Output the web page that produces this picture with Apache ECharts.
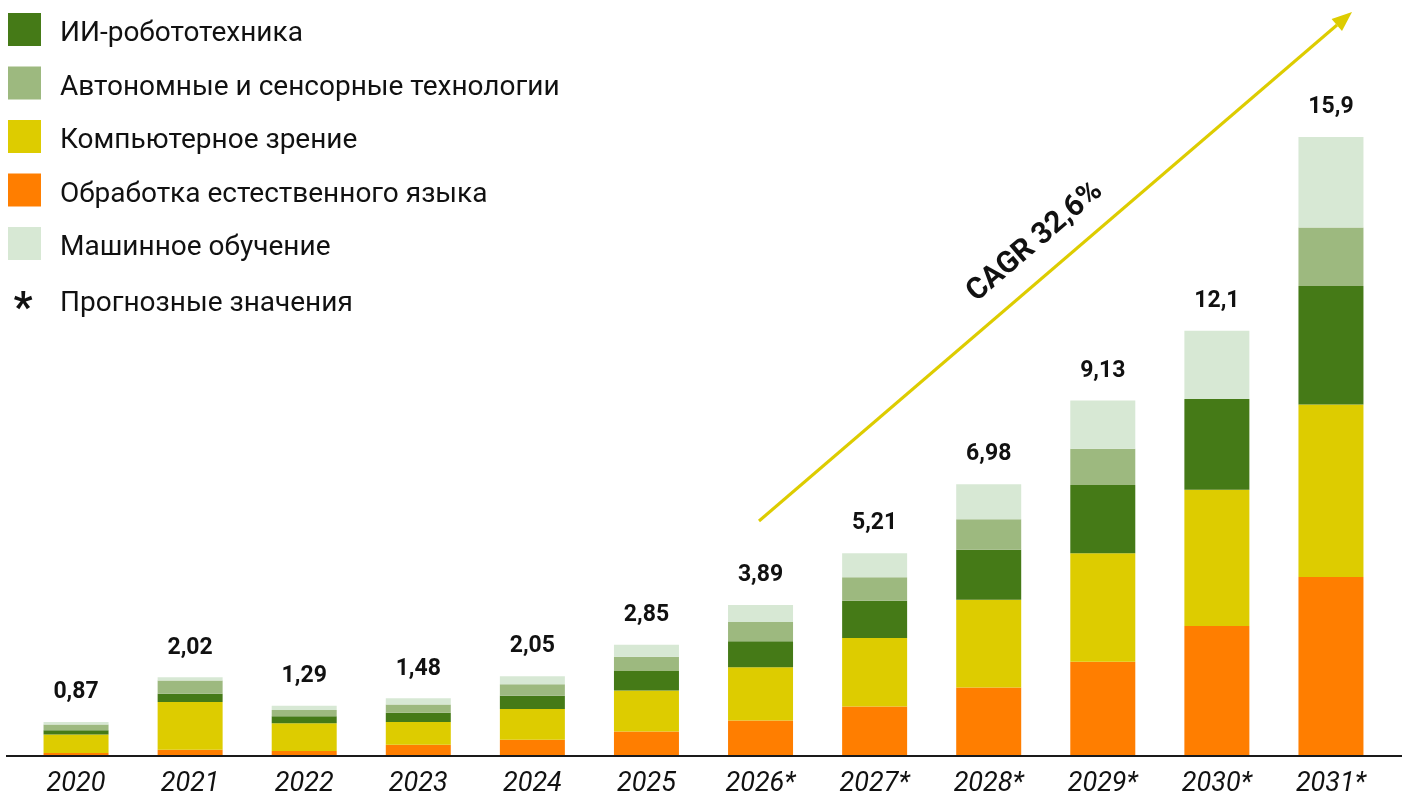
<!DOCTYPE html>
<html>
<head>
<meta charset="utf-8">
<script src="https://cdn.jsdelivr.net/npm/echarts@6/dist/echarts.min.js"></script>
<style>
  html, body { margin: 0; padding: 0; background: #fff; }
  #chart { width: 1402px; height: 798px; }
</style>
</head>
<body>
<div id="chart"></div>
<script>
// years, * = forecast
var categories = ['2020', '2021', '2022', '2023', '2024', '2025', '2026*', '2027*', '2028*', '2029*', '2030*', '2031*']
var totals = ['0,87', '2,02', '1,29', '1,48', '2,05', '2,85', '3,89', '5,21', '6,98', '9,13', '12,1', '15,9']

// segments, bottom to top
var nlp = [0.08, 0.16, 0.13, 0.29, 0.42, 0.63, 0.91, 1.27, 1.76, 2.42, 3.34, 4.60]
var vision = [0.47, 1.23, 0.71, 0.58, 0.79, 1.05, 1.37, 1.76, 2.25, 2.79, 3.50, 4.43]
var robotics = [0.11, 0.21, 0.18, 0.24, 0.34, 0.50, 0.67, 0.96, 1.29, 1.75, 2.33, 3.04]
var autonomous = [0.15, 0.34, 0.16, 0.21, 0.29, 0.37, 0.49, 0.60, 0.78, 0.93, 0, 1.50]
var ml = [0.06, 0.08, 0.11, 0.16, 0.21, 0.31, 0.44, 0.62, 0.90, 1.24, 1.75, 2.33]

var names = {
  robotics: 'ИИ-робототехника',
  autonomous: 'Автономные и сенсорные технологии',
  vision: 'Компьютерное зрение',
  nlp: 'Обработка естественного языка',
  ml: 'Машинное обучение'
}

var font = 'Roboto'
var chart = echarts.init(document.getElementById('chart'))

function bar (name, data, color) {
  return {
    name: name,
    type: 'bar',
    stack: 'total',
    barWidth: 65,
    data: data,
    itemStyle: { color: color },
    emphasis: { disabled: true }
  }
}

var topSeries = bar(names.ml, ml, '#d7e8d4')
topSeries.label = {
  show: true,
  position: 'top',
  distance: 18,
  fontFamily: font,
  fontWeight: 'bold',
  fontSize: 23,
  color: '#111',
  formatter: function (p) { return totals[p.dataIndex] }
}

var option = {
  animation: false,
  grid: { left: 19, right: 14, top: 133, bottom: 42 },
  legend: {
    orient: 'vertical',
    left: 8,
    top: 13,
    padding: 0,
    // square sits in the upper part of a taller item so the text lands a bit lower, as in the source
    icon: 'path://M0 0H33V33H0Z M0 42H0.01V42.01H0Z',
    itemWidth: 33,
    itemHeight: 42,
    itemGap: 11.5,
    selectedMode: false,
    textStyle: { fontFamily: font, fontSize: 28, color: '#111', padding: [0, 0, 0, 14], lineHeight: 33 },
    data: [names.robotics, names.autonomous, names.vision, names.nlp, names.ml]
  },
  xAxis: {
    type: 'category',
    data: categories,
    axisLine: { show: false },
    axisTick: { show: false },
    axisLabel: { fontFamily: font, fontStyle: 'italic', fontSize: 27, color: '#111', margin: 15 }
  },
  yAxis: {
    type: 'value',
    min: 0,
    max: 16,
    show: false,
    splitLine: { show: false }
  },
  series: [
    bar(names.nlp, nlp, '#ff7e00'),
    bar(names.vision, vision, '#ddcc00'),
    bar(names.robotics, robotics, '#457a17'),
    bar(names.autonomous, autonomous, '#9db97f'),
    topSeries
  ],
  graphic: [
    // baseline
    { type: 'line', shape: { x1: 6, y1: 756, x2: 1402, y2: 756 }, style: { stroke: '#1a1a1a', lineWidth: 2 }, z: 10 },
    // growth arrow
    { type: 'line', shape: { x1: 759, y1: 521, x2: 1337, y2: 25 }, style: { stroke: '#ddcc00', lineWidth: 3 } },
    { type: 'polygon', shape: { points: [[1352, 12], [1342, 31], [1331.6, 18.9]] }, style: { fill: '#ddcc00' } },
    {
      type: 'text',
      x: 1035,
      y: 242,
      rotation: 0.709,
      style: { text: 'CAGR 32,6%', fontFamily: font, fontWeight: 'bold', fontSize: 30, fill: '#111', align: 'center', verticalAlign: 'middle' }
    },
    // forecast note
    { type: 'text', x: 23, y: 310, style: { text: '*', fontFamily: font, fontWeight: 'bold', fontSize: 42, fill: '#111', align: 'center', verticalAlign: 'middle' } },
    { type: 'text', x: 60, y: 304, style: { text: 'Прогнозные значения', fontFamily: font, fontSize: 28, fill: '#111', verticalAlign: 'middle' } }
  ]
}

chart.setOption(option)
</script>
</body>
</html>
